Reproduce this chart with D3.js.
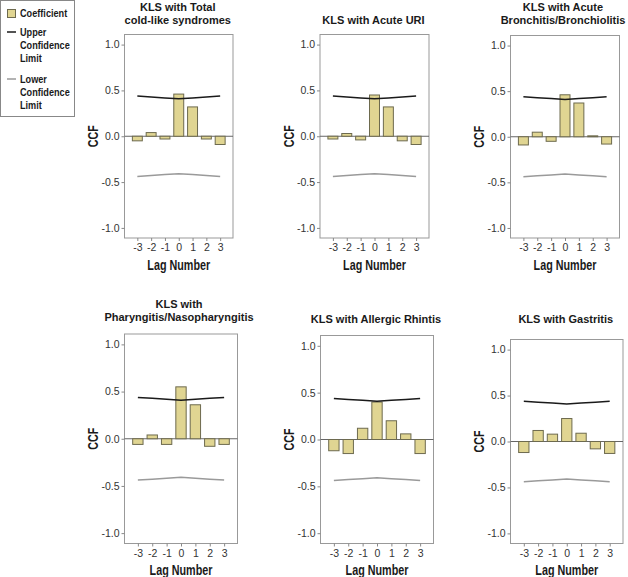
<!DOCTYPE html>
<html><head><meta charset="utf-8">
<script src="https://cdn.jsdelivr.net/npm/d3@7"></script>
<style>body{margin:0;background:#fff} svg{display:block}</style>
</head><body>
<svg id="chart" width="628" height="577"></svg>
<script>
// ---------- data ----------
const lags = [-3, -2, -1, 0, 1, 2, 3];
const yTickValues = [-1.0, -0.5, 0.0, 0.5, 1.0];

const titleTotal = ["KLS with Total", "cold-like syndromes"];
const titleURI = ["KLS with Acute URI"];
const titleBronch = ["KLS with Acute", "Bronchitis/Bronchiolitis"];
const titlePharyn = ["KLS with", "Pharyngitis/Nasopharyngitis"];
const titleRhinitis = ["KLS with Allergic Rhintis"];
const titleGastritis = ["KLS with Gastritis"];

const coefTotal     = [-0.05, 0.04, -0.03, 0.46, 0.32, -0.03, -0.09];
const coefURI       = [-0.03, 0.03, -0.04, 0.45, 0.32, -0.05, -0.09];
const coefBronch    = [-0.09, 0.05, -0.05, 0.46, 0.37, 0.01, -0.08];
const coefPharyn    = [-0.06, 0.04, -0.06, 0.55, 0.36, -0.08, -0.06];
const coefRhinitis  = [-0.12, -0.15, 0.12, 0.40, 0.20, 0.06, -0.15];
const coefGastritis = [-0.12, 0.12, 0.08, 0.25, 0.09, -0.08, -0.13];

const upperLimit = [0.438, 0.428, 0.418, 0.409, 0.418, 0.428, 0.438];
const lowerLimit = [-0.438, -0.428, -0.418, -0.409, -0.418, -0.428, -0.438];

const legendCoef = ["Coefficient"];
const legendUpper = ["Upper", "Confidence", "Limit"];
const legendLower = ["Lower", "Confidence", "Limit"];
const yAxisLabel = "CCF";
const xAxisLabel = "Lag Number";

// ---------- layout / style ----------
const panels = [
  {title: titleTotal, coef: coefTotal, box: [124.5, 34.5, 233, 238], tb: [10.5, 23.5], tdx: -1},
  {title: titleURI, coef: coefURI, box: [320, 34.5, 429, 238], tb: [23.5], tdx: -1},
  {title: titleBronch, coef: coefBronch, box: [510.5, 35.5, 619.5, 238], tb: [10.5, 23.5], tdx: -2},
  {title: titlePharyn, coef: coefPharyn, box: [124.5, 334, 237.5, 543.5], tb: [307.5, 321], tdx: -2},
  {title: titleRhinitis, coef: coefRhinitis, box: [320.5, 335.5, 433.5, 543.5], tb: [322.5], tdx: -1},
  {title: titleGastritis, coef: coefGastritis, box: [510.5, 339.5, 623, 543.5], tb: [322.5], tdx: -1}
];
const barFill = "#e0d592", barStroke = "#6d6a4e";
const upperColor = "#1a1a1a", lowerColor = "#9a9a9a";
const FONT = "'Liberation Sans', Arial, sans-serif";
const hyphen = f => d => f(d).replace("\u2212", "-");

// condense a text horizontally (the reference uses a narrow face)
function condense(sel, factor) {
  sel.each(function () {
    const w = this.getComputedTextLength();
    d3.select(this).attr("textLength", w * factor).attr("lengthAdjust", "spacingAndGlyphs");
  });
  return sel;
}

const svg = d3.select("#chart");

panels.forEach(p => {
  const [x0, y0, x1, y1] = p.box;
  const x = d3.scaleLinear().domain([-3.93, 3.93]).range([x0, x1]);
  const y = d3.scaleLinear().domain([-1.11, 1.11]).range([y1, y0]);
  const g = svg.append("g");

  g.append("rect").attr("x", x0).attr("y", y0).attr("width", x1 - x0).attr("height", y1 - y0)
    .attr("fill", "#fff").attr("stroke", "#999").attr("stroke-width", 1);

  g.append("line").attr("x1", x0).attr("x2", x1).attr("y1", y(0)).attr("y2", y(0))
    .attr("stroke", "#666").attr("stroke-width", 1);

  const data = lags.map((l, i) => ({lag: l, v: p.coef[i]}));
  g.selectAll("rect.bar").data(data).join("rect").attr("class", "bar")
    .attr("x", d => x(d.lag - 0.36))
    .attr("width", d => x(d.lag + 0.36) - x(d.lag - 0.36))
    .attr("y", d => y(Math.max(0, d.v)))
    .attr("height", d => Math.abs(y(d.v) - y(0)))
    .attr("fill", barFill).attr("stroke", barStroke).attr("stroke-width", 1);

  const line = d3.line().x(d => x(d[0])).y(d => y(d[1]));
  g.append("path").datum(lags.map((l, i) => [l, upperLimit[i]])).attr("d", line)
    .attr("fill", "none").attr("stroke", upperColor).attr("stroke-width", 1.5);
  g.append("path").datum(lags.map((l, i) => [l, lowerLimit[i]])).attr("d", line)
    .attr("fill", "none").attr("stroke", lowerColor).attr("stroke-width", 1.5);

  const ya = g.append("g").attr("transform", `translate(${x0},0)`)
    .call(d3.axisLeft(y).tickValues(yTickValues).tickFormat(hyphen(d3.format(".1f"))).tickSize(3).tickPadding(2));
  const xa = g.append("g").attr("transform", `translate(0,${y1})`)
    .call(d3.axisBottom(x).tickValues(lags).tickFormat(hyphen(d3.format("d"))).tickSize(3).tickPadding(3));
  [ya, xa].forEach(a => {
    a.select(".domain").remove();
    a.selectAll(".tick line").attr("stroke", "#888");
    a.selectAll(".tick text").attr("fill", "#333").style("font-family", FONT).style("font-size", "10.5px");
  });

  const cx = (x0 + x1) / 2;
  condense(g.append("text").attr("transform", `translate(${x0 - 26.5},${(y0 + y1) / 2}) rotate(-90)`)
    .attr("text-anchor", "middle").style("font-family", FONT).style("font-weight", "bold")
    .style("font-size", "14px").attr("fill", "#1a1a1a").text(yAxisLabel), 0.76);
  condense(g.append("text").attr("x", cx).attr("y", y1 + 31.5).attr("text-anchor", "middle")
    .style("font-family", FONT).style("font-weight", "bold").style("font-size", "14px")
    .attr("fill", "#1a1a1a").text(xAxisLabel), 0.77);

  p.title.forEach((t, i) => {
    g.append("text").attr("x", cx + p.tdx).attr("y", p.tb[i]).attr("text-anchor", "middle")
      .style("font-family", FONT).style("font-weight", "bold").style("font-size", "11px")
      .attr("fill", "#1a1a1a").text(t);
  });
});

// legend
const lg = svg.append("g");
lg.append("rect").attr("x", 0.5).attr("y", 0.5).attr("width", 74).attr("height", 116)
  .attr("fill", "#fff").attr("stroke", "#888");
lg.append("rect").attr("x", 7.5).attr("y", 9.5).attr("width", 8).attr("height", 8)
  .attr("fill", barFill).attr("stroke", barStroke);
lg.append("line").attr("x1", 7).attr("x2", 16).attr("y1", 32).attr("y2", 32)
  .attr("stroke", upperColor).attr("stroke-width", 1.5);
lg.append("line").attr("x1", 7).attr("x2", 16).attr("y1", 79).attr("y2", 79)
  .attr("stroke", lowerColor).attr("stroke-width", 1.5);
const legTexts = [[legendCoef, 17], [legendUpper, 35.5], [legendLower, 82.5]];
legTexts.forEach(([lines, b]) => {
  lines.forEach((t, i) => {
    condense(lg.append("text").attr("x", 20).attr("y", b + i * 13.2)
      .style("font-family", FONT).style("font-weight", "bold").style("font-size", "10.5px")
      .attr("fill", "#1a1a1a").text(t), 0.87);
  });
});
</script>
</body></html>
